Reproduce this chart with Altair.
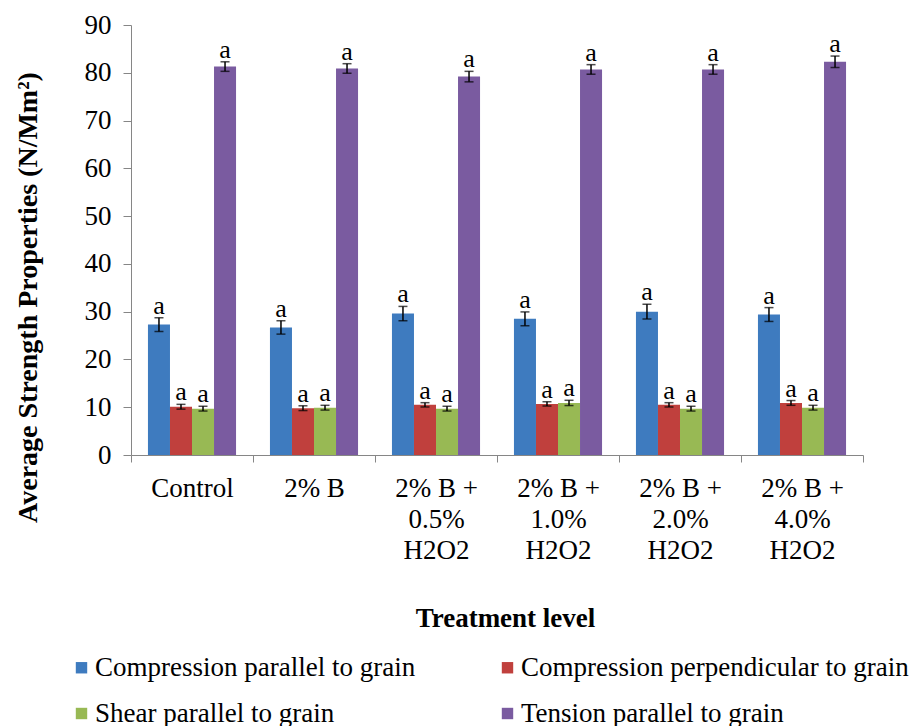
import altair as alt
import pandas as pd

treatments = ["Control", "2% B", "2% B +\n0.5%\nH2O2", "2% B +\n1.0%\nH2O2",
              "2% B +\n2.0%\nH2O2", "2% B +\n4.0%\nH2O2"]
series = ["Compression parallel to grain", "Compression perpendicular to grain",
          "Shear parallel to grain", "Tension parallel to grain"]
colors = ["#3E7BBF", "#C0403D", "#98B954", "#7A5BA0"]
# legend is filled column by column: this order puts the entries in rows as in the reference
legend_order = ["Compression parallel to grain", "Shear parallel to grain",
                "Compression perpendicular to grain", "Tension parallel to grain"]
legend_colors = ["#3E7BBF", "#98B954", "#C0403D", "#7A5BA0"]

comp_par = [27.3, 26.7, 29.6, 28.5, 30.0, 29.4]
comp_perp = [10.1, 9.8, 10.5, 10.7, 10.5, 10.9]
shear = [9.7, 9.9, 9.7, 10.9, 9.7, 9.9]
tension = [81.3, 80.9, 79.2, 80.7, 80.7, 82.3]

err_comp_par = [1.45, 1.4, 1.5, 1.45, 1.55, 1.45]
err_comp_perp = [0.5, 0.5, 0.45, 0.45, 0.45, 0.5]
err_shear = [0.5, 0.5, 0.5, 0.55, 0.5, 0.5]
err_tension = [1.0, 1.0, 1.1, 1.0, 1.0, 1.2]

letters = ["a", "a", "a", "a", "a", "a"]

rows = []
for s, vals, errs in zip(series,
                         [comp_par, comp_perp, shear, tension],
                         [err_comp_par, err_comp_perp, err_shear, err_tension]):
    for t, v, e, l in zip(treatments, vals, errs, letters):
        rows.append({"treatment": t, "series": s, "value": v,
                     "lo": v - e, "hi": v + e, "letter": l})
df = pd.DataFrame(rows)

FONT = "Liberation Serif"
GRAY = "#868686"

x_enc = alt.X("treatment:N", sort=treatments,
              scale=alt.Scale(paddingInner=0, paddingOuter=0),
              axis=alt.Axis(title="Treatment level", titleFontSize=27,
                            titleFontWeight="bold", titleColor="black",
                            titleX=374, titleY=163, titleAlign="center",
                            titleBaseline="middle",
                            labelFontSize=27, labelColor="black", labelAngle=0,
                            labelExpr="split(datum.label, '\\n')",
                            labelLineHeight=31, labelPadding=13,
                            labelBaseline="top",
                            tickBand="extent", tickSize=7, tickColor=GRAY,
                            domainColor=GRAY))
xo_enc = alt.XOffset("series:N", sort=series,
                     scale=alt.Scale(paddingInner=0, paddingOuter=0.77))
y_enc = alt.Y("value:Q",
              scale=alt.Scale(domain=[0, 90], nice=False),
              axis=alt.Axis(title="Average Strength Properties (N/Mm²)",
                            titleFontSize=28, titleFontWeight="bold",
                            titleColor="black", titleAngle=270,
                            titleX=-103, titleY=272, titleAlign="center",
                            titleBaseline="middle",
                            values=[0, 10, 20, 30, 40, 50, 60, 70, 80, 90],
                            labelFontSize=27, labelColor="black",
                            labelPadding=12, tickSize=8, tickColor=GRAY,
                            domainColor=GRAY, grid=False))

base = alt.Chart(df)

bars = base.mark_bar().encode(
    x=x_enc, xOffset=xo_enc, y=y_enc,
    color=alt.Color("series:N",
                    scale=alt.Scale(domain=legend_order, range=legend_colors),
                    legend=alt.Legend(title=None, orient="none",
                                      legendX=-63, legendY=629,
                                      columns=2, symbolType="square",
                                      symbolSize=130, symbolStrokeWidth=0,
                                      labelFontSize=27, labelColor="black",
                                      labelLimit=0, labelOffset=0,
                                      rowPadding=18, columnPadding=78)))

rule = base.mark_rule(color="black", strokeWidth=1.5).encode(
    x=alt.X("treatment:N", sort=treatments), xOffset=xo_enc,
    y="lo:Q", y2="hi:Q")
cap_lo = base.mark_tick(color="black", thickness=1.5, size=9).encode(
    x=alt.X("treatment:N", sort=treatments), xOffset=xo_enc, y="lo:Q")
cap_hi = base.mark_tick(color="black", thickness=1.5, size=9).encode(
    x=alt.X("treatment:N", sort=treatments), xOffset=xo_enc, y="hi:Q")
labels = base.mark_text(font=FONT, fontSize=26, color="black",
                        baseline="alphabetic", dy=-4).encode(
    x=alt.X("treatment:N", sort=treatments), xOffset=xo_enc,
    y="hi:Q", text="letter:N")

chart = alt.layer(bars, rule, cap_lo, cap_hi, labels).properties(
    width=732, height=430,
    autosize=alt.AutoSizeParams(type="none"),
    padding={"left": 123, "top": 17, "right": 51, "bottom": 271},
).configure(font=FONT).configure_view(stroke=None)

chart.save("out.html", embed_options={"renderer": "svg", "actions": False})
